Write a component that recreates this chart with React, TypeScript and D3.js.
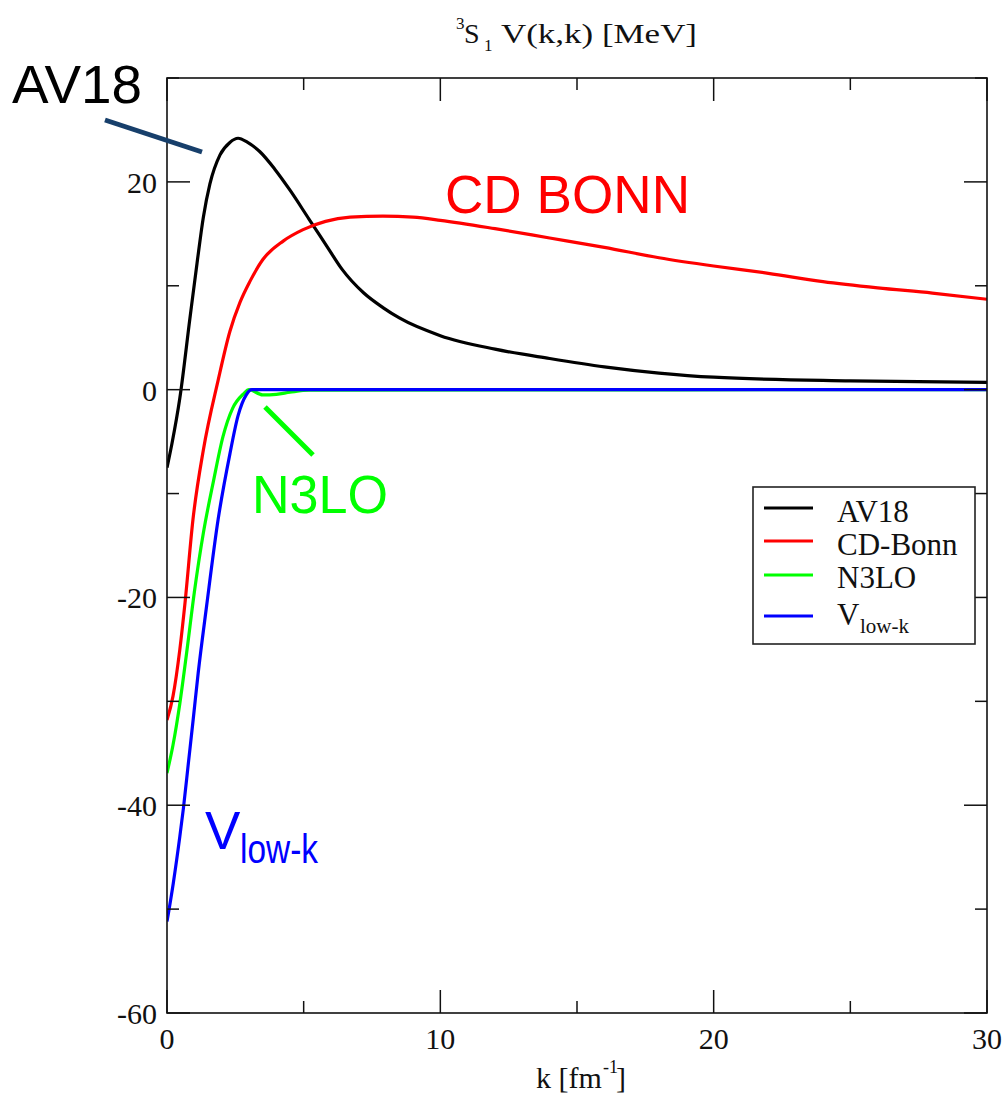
import React from "react";
import * as d3 from "d3";

// ---- data ----
const av18K = [0, 0.18, 0.47, 0.84, 1.1, 1.33, 1.57, 1.94, 2.3, 2.6, 2.95, 3.4, 3.95, 4.5, 5.2, 5.85, 6.4, 7.2, 7.9, 8.5, 10, 12, 14, 16, 18, 20, 25, 30];
const av18V = [-7.5, -5.2, -0.8, 6.9, 12.2, 16.6, 19.8, 22.6, 23.8, 24.2, 23.8, 22.9, 21.2, 19.2, 16.4, 13.8, 11.6, 9.3, 7.9, 6.9, 5.2, 3.9, 3.0, 2.2, 1.6, 1.2, 0.85, 0.7];

const cdbK = [0, 0.22, 0.47, 0.66, 0.95, 1.33, 1.87, 2.3, 2.67, 3.03, 3.5, 4.25, 4.98, 5.8, 6.7, 7.9, 9, 10, 12, 14, 16, 18, 20, 22, 24, 26, 28, 30];
const cdbV = [-31.8, -29.5, -25.0, -20.5, -12.5, -5.8, 0.9, 5.6, 8.4, 10.4, 12.5, 14.3, 15.4, 16.2, 16.6, 16.7, 16.6, 16.3, 15.5, 14.6, 13.7, 12.7, 11.9, 11.2, 10.4, 9.8, 9.3, 8.7];

const n3loK = [0, 0.22, 0.47, 0.72, 1.0, 1.33, 1.7, 2.05, 2.4, 2.8, 3.0, 3.5, 4.0, 4.5, 5.2, 30];
const n3loV = [-36.9, -34.2, -30.2, -25.3, -19.5, -13.8, -8.8, -4.5, -1.8, -0.4, 0.0, -0.5, -0.45, -0.25, -0.05, 0];

const vlkK = [0, 0.23, 0.47, 0.6, 0.78, 0.96, 1.14, 1.45, 1.87, 2.3, 2.6, 2.9, 3.1, 30];
const vlkV = [-51.2, -47.5, -43.0, -40.3, -36.0, -31.7, -27.3, -20.8, -12.5, -6.2, -2.5, -0.5, 0, 0];

const seriesNames = ["AV18", "CD-Bonn", "N3LO", "Vlow-k"];
const seriesColors = ["#000000", "#ff0000", "#00ff00", "#0000ff"];

const xTicks = [0, 5, 10, 15, 20, 25, 30];
const xLabels = [0, 10, 20, 30];
const yTicks = [-60, -50, -40, -30, -20, -10, 0, 10, 20, 30];
const yLabels = [-60, -40, -20, 0, 20];

const W = 1003, H = 1101;
const L = 167, R = 987, T = 78, B = 1013;

export default function App() {
  const x = d3.scaleLinear().domain([0, 30]).range([L, R]);
  const y = d3.scaleLinear().domain([-60, 30]).range([B, T]);
  const line = d3
    .line<[number, number]>()
    .x((d) => x(d[0]))
    .y((d) => y(d[1]))
    .curve(d3.curveMonotoneX);

  const series = [
    { k: av18K, v: av18V },
    { k: cdbK, v: cdbV },
    { k: n3loK, v: n3loV },
    { k: vlkK, v: vlkV },
  ];

  const serif = "'Liberation Serif', 'DejaVu Serif', serif";
  const sans = "'Liberation Sans', Arial, sans-serif";
  const major = 23, minor = 12;

  const legendRows = [508, 541, 575, 616];
  const legendBase = [522, 555, 588, 625];

  return (
    <svg width={W} height={H} style={{ position: "absolute", left: 0, top: 0, background: "#fff" }}>
      <rect x={0} y={0} width={W} height={H} fill="#fff" />
      <defs>
        <clipPath id="clip">
          <rect x={L} y={T} width={R - L} height={B - T} />
        </clipPath>
      </defs>
      {/* curves */}
      <g clipPath="url(#clip)">
        {series.map((s, i) => (
          <path
            key={i}
            d={line(s.k.map((k, j) => [k, s.v[j]] as [number, number])) || ""}
            fill="none"
            stroke={seriesColors[i]}
            strokeWidth={3.2}
            strokeLinejoin="round"
          />
        ))}
      </g>

      {/* frame */}
      <rect x={L} y={T} width={R - L} height={B - T} fill="none" stroke="#111" strokeWidth={1.6} />

      {/* x ticks (bottom + top) */}
      {xTicks.map((t) => {
        const len = t % 10 === 0 ? major : minor;
        return (
          <g key={"xt" + t} stroke="#111" strokeWidth={1.5}>
            <line x1={x(t)} x2={x(t)} y1={B} y2={B - len} />
            <line x1={x(t)} x2={x(t)} y1={T} y2={T + len} />
          </g>
        );
      })}
      {xLabels.map((t) => (
        <text key={"xl" + t} x={x(t)} y={1049} textAnchor="middle" fontFamily={serif} fontSize={30} fill="#111">
          {t}
        </text>
      ))}

      {/* y ticks (left + right) */}
      {yTicks.map((t) => {
        const len = t % 20 === 0 ? major : minor;
        return (
          <g key={"yt" + t} stroke="#111" strokeWidth={1.5}>
            <line x1={L} x2={L + len} y1={y(t)} y2={y(t)} />
            <line x1={R} x2={R - len} y1={y(t)} y2={y(t)} />
          </g>
        );
      })}
      {yLabels.map((t) => (
        <text key={"yl" + t} x={157} y={y(t) + 11} textAnchor="end" fontFamily={serif} fontSize={30} fill="#111">
          {t}
        </text>
      ))}

      {/* title */}
      <text fontFamily={serif} fill="#111">
        <tspan x={456} y={29} fontSize={17}>3</tspan>
        <tspan x={464} y={43} fontSize={28}>S</tspan>
        <tspan x={484} y={51} fontSize={17}>1</tspan>
        <tspan x={501} y={43} fontSize={28} textLength={196} lengthAdjust="spacingAndGlyphs">V(k,k) [MeV]</tspan>
      </text>

      {/* x axis label */}
      <text fontFamily={serif} fill="#111">
        <tspan x={536} y={1088} fontSize={30}>k [fm</tspan>
        <tspan x={603} y={1073} fontSize={18}>-1</tspan>
        <tspan x={616} y={1088} fontSize={30}>]</tspan>
      </text>

      {/* legend */}
      <rect x={753} y={487} width={222} height={157} fill="#fff" stroke="#222" strokeWidth={1.6} />
      {seriesNames.map((n, i) => (
        <line key={"ll" + i} x1={764} x2={813} y1={legendRows[i]} y2={legendRows[i]} stroke={seriesColors[i]} strokeWidth={3.2} />
      ))}
      <text x={837} y={legendBase[0]} fontFamily={serif} fontSize={31} fill="#111">AV18</text>
      <text x={837} y={legendBase[1]} fontFamily={serif} fontSize={31} fill="#111">CD-Bonn</text>
      <text x={837} y={legendBase[2]} fontFamily={serif} fontSize={31} fill="#111">N3LO</text>
      <text fontFamily={serif} fill="#111">
        <tspan x={837} y={legendBase[3]} fontSize={31}>V</tspan>
        <tspan x={860} y={633} fontSize={21}>low-k</tspan>
      </text>

      {/* annotations */}
      <text x={12} y={103} fontFamily={sans} fontSize={53} fill="#000" textLength={130} lengthAdjust="spacingAndGlyphs">AV18</text>
      <line x1={105} y1={120} x2={202} y2={152} stroke="#173f6b" strokeWidth={5} />
      <text x={445} y={213} fontFamily={sans} fontSize={53} fill="#ff0000" textLength={245} lengthAdjust="spacingAndGlyphs">CD BONN</text>
      <text x={252} y={513} fontFamily={sans} fontSize={53} fill="#00ff00" textLength={136} lengthAdjust="spacingAndGlyphs">N3LO</text>
      <line x1={265} y1={407} x2={313} y2={455} stroke="#00ff00" strokeWidth={5} />
      <text fontFamily={sans} fill="#0000ff">
        <tspan x={205} y={849} fontSize={53}>V</tspan>
        <tspan x={240} y={863} fontSize={40} textLength={78} lengthAdjust="spacingAndGlyphs">low-k</tspan>
      </text>
    </svg>
  );
}
